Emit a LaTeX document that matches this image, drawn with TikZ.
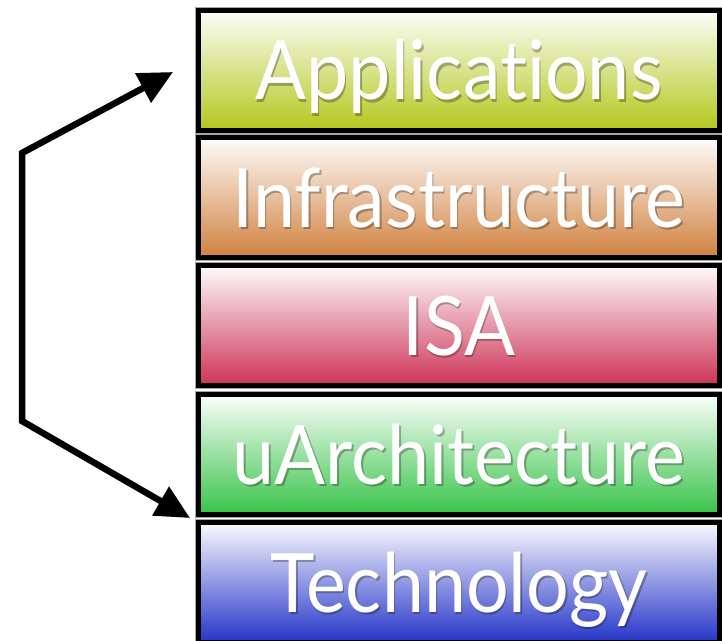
\documentclass[tikz,border=0pt]{standalone}
\usepackage{fontspec}
\newfontfamily\lblfont{Lato}[FakeStretch=0.92, Ligatures={NoCommon,NoRequired,NoContextual}, RawFeature={-liga;-dlig}]
\usetikzlibrary{arrows.meta}
\definecolor{appc}{RGB}{178,200,28}
\definecolor{infc}{RGB}{208,128,62}
\definecolor{isac}{RGB}{205,50,86}
\definecolor{uarc}{RGB}{55,195,72}
\definecolor{tecc}{RGB}{36,52,200}
\newcommand\shtext[1]{\makebox[0pt][l]{\hspace{1.5pt}\raisebox{-2.5pt}{\begin{pgfscope}\pgfsetfillopacity{0.28}\color{black}#1\end{pgfscope}}}#1}
\tikzset{
  layer/.style={draw=black, line width=5pt, minimum width=521pt, minimum height=120pt,
    inner sep=0pt, outer sep=0pt, top color=#1!2!white, middle color=#1!55!white, bottom color=#1,
    preaction={draw=black!35, line width=7pt}},
  lbl/.style={text=white, font=\lblfont\fontsize{82}{82}\selectfont, inner sep=0pt,
    text height=59pt, text depth=0pt},
  arrowline/.style={line width=6.5pt, line join=miter,
    {Triangle[length=34pt,width=32pt]}-{Triangle[length=34pt,width=32pt]}}
}
\begin{document}
\begin{tikzpicture}[x=1pt,y=-1pt]
\useasboundingbox (0,0) rectangle (722,640);
\clip (0,0) rectangle (722,640);
\node[layer=appc] (app) at (459,70) {};
\node[layer=infc] (inf) at (459,197.5) {};
\node[layer=isac] (isa) at (459,325.5) {};
\node[layer=uarc] (uar) at (459,454.5) {};
\node[layer=tecc] (tec) at (459,582.5) {};
\foreach \n/\t in {app/Applications,inf/Infrastructure,isa/ISA,uar/uArchitecture,tec/Technology}{
  \node[lbl] (\n t) at (\n.center) {\shtext{\t}};
}
\coordinate (atop) at ([xshift=-25.5pt,yshift=-2pt]app.west);
\coordinate (c1) at (22,153);
\coordinate (c2) at (22,421);
\coordinate (abot) at ([xshift=-8.5pt,yshift=4.5pt]tec.north west);
\draw[arrowline] (atop) -- (c1) -- (c2) -- (abot);
\end{tikzpicture}
\end{document}
